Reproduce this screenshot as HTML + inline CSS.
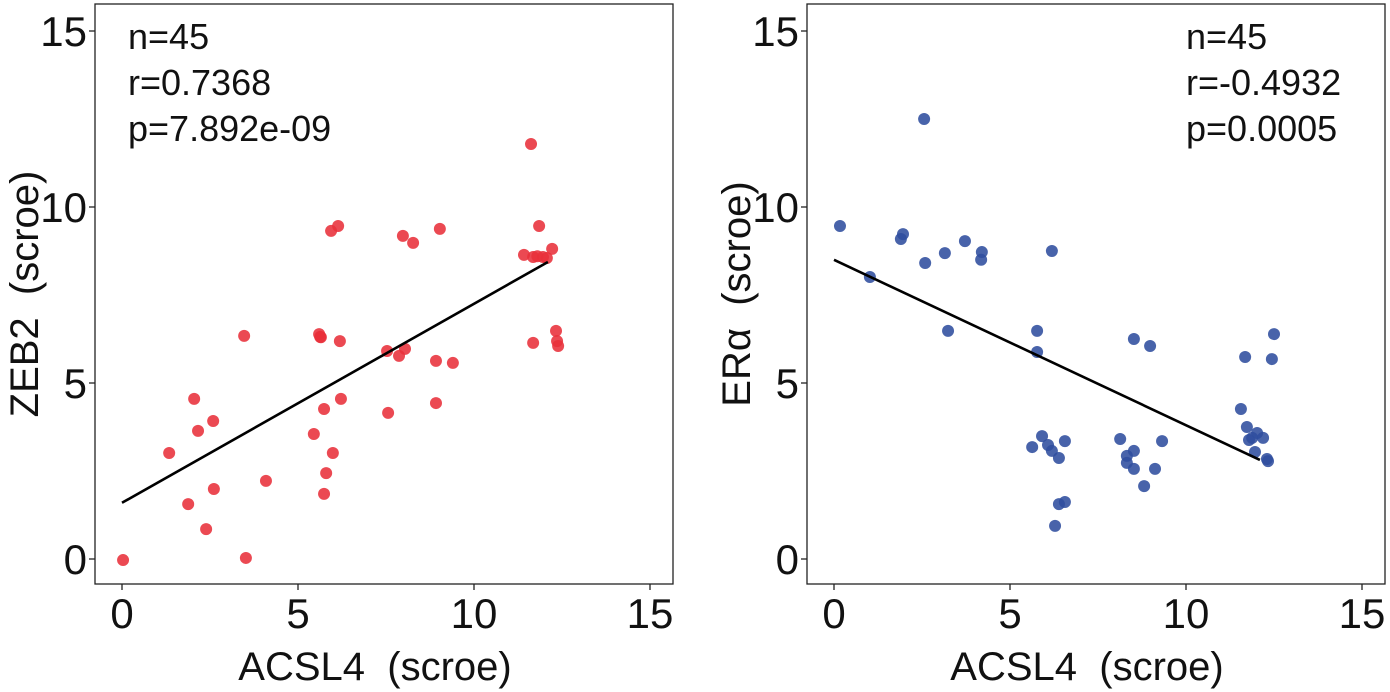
<!DOCTYPE html>
<html><head><meta charset="utf-8">
<style>
html,body{margin:0;padding:0;background:#fff;}
svg{display:block;font-family:"Liberation Sans",Arial,sans-serif;}
text{white-space:pre;}
</style></head>
<body>
<svg id="chart" width="1390" height="692" viewBox="0 0 1390 692"></svg>
<script>
const leftX=[11.62,5.94,6.14,7.98,8.27,9.03,11.85,11.42,11.68,11.96,12.22,12.07,3.47,5.6,5.63,6.19,7.53,8.04,7.87,8.92,9.4,11.68,12.33,12.36,12.39,2.05,6.22,5.74,7.56,8.92,2.59,2.16,5.45,1.34,5.99,5.8,4.09,2.61,1.88,5.74,2.39,0.03,3.52,11.8,5.65];
const leftY=[11.79,9.32,9.46,9.18,8.98,9.38,9.46,8.64,8.58,8.58,8.81,8.55,6.34,6.39,6.31,6.19,5.91,5.97,5.77,5.63,5.57,6.14,6.48,6.19,6.05,4.55,4.55,4.26,4.15,4.43,3.92,3.64,3.55,3.01,3.01,2.44,2.22,1.99,1.56,1.85,0.85,-0.03,0.03,8.6,6.3];
const rightX=[2.56,0.17,1.96,1.9,3.72,3.15,4.2,4.18,2.59,6.19,1.02,3.24,5.77,5.77,8.52,8.98,12.5,11.68,12.44,11.56,11.73,12.02,12.19,11.79,11.88,11.96,12.3,12.33,5.91,5.63,6.08,6.19,6.39,6.56,8.13,8.52,8.32,8.32,8.52,9.32,9.12,8.81,6.39,6.56,6.28];
const rightY=[12.5,9.46,9.23,9.09,9.03,8.69,8.72,8.5,8.41,8.75,8.01,6.48,6.48,5.88,6.25,6.05,6.39,5.74,5.68,4.26,3.75,3.58,3.44,3.38,3.44,3.04,2.84,2.78,3.49,3.18,3.24,3.07,2.87,3.35,3.41,3.07,2.93,2.73,2.56,3.35,2.56,2.07,1.56,1.62,0.94];
const xTicks=[0,5,10,15];
const yTicks=[0,5,10,15];
const leftStats=["n=45","r=0.7368","p=7.892e-09"];
const rightStats=["n=45","r=-0.4932","p=0.0005"];

const svg=document.getElementById('chart');
const NS="http://www.w3.org/2000/svg";
function mk(tag,attrs,parent){const e=document.createElementNS(NS,tag);for(const k in attrs)e.setAttribute(k,attrs[k]);(parent||svg).appendChild(e);return e;}

function panel(ox,xs,ys,color,stats,statsX,ytitle,prefix){
  const sc=35.2;
  const xS=v=>ox+27+v*sc;
  const yS=v=>559-v*sc;
  const g=mk('g',{});
  
  
  const box=mk('rect',{x:ox,y:4,width:578,height:580,fill:'none',stroke:'#222','stroke-width':1.3},g);
  
  
  xTicks.forEach(t=>{
    mk('line',{x1:xS(t),x2:xS(t),y1:584,y2:590,stroke:'#222','stroke-width':1.3},g);
    const tx=mk('text',{x:xS(t),y:628,'text-anchor':'middle','font-size':42,fill:'#111'},g);
    tx.textContent=t;
    
    
  });
  yTicks.forEach(t=>{
    mk('line',{x1:ox-6,x2:ox,y1:yS(t),y2:yS(t),stroke:'#222','stroke-width':1.3},g);
    const tx=mk('text',{x:ox-8,y:yS(t)+15,'text-anchor':'end','font-size':42,fill:'#111'},g);
    tx.textContent=t;
    
    
  });
  const xt=mk('text',{x:ox+280,y:680,'text-anchor':'middle','font-size':40,fill:'#111'},g);
  xt.textContent='ACSL4  (scroe)';
  
  
  const yt=mk('text',{x:0,y:0,'text-anchor':'middle','font-size':40,fill:'#111',transform:`translate(${ox-57},294) rotate(-90)`},g);
  yt.textContent=ytitle;
  
  
  xs.forEach((x,i)=>{
    const c=mk('circle',{cx:xS(x),cy:yS(ys[i]),r:6,fill:color,'fill-opacity':0.88},g);
    
    
  });
  const n=xs.length;const mx=xs.reduce((a,b)=>a+b)/n,my=ys.reduce((a,b)=>a+b)/n;
  let sxy=0,sxx=0;xs.forEach((x,i)=>{sxy+=(x-mx)*(ys[i]-my);sxx+=(x-mx)*(x-mx);});
  const b=sxy/sxx,a=my-b*mx;
  const x0=0,x1=12.1;
  const ln=mk('line',{x1:xS(x0),y1:yS(a+b*x0),x2:xS(x1),y2:yS(a+b*x1),stroke:'#000','stroke-width':2.6},g);
  
  
  stats.forEach((s,i)=>{
    const t=mk('text',{x:statsX,y:49+i*46,'font-size':36,fill:'#111'},g);
    t.textContent=s;
    
    
  });
}
panel(95,leftX,leftY,'#e8303a',leftStats,128,'ZEB2  (scroe)','zeb2');
panel(807,rightX,rightY,'#2f4d9e',rightStats,1186,'ERα  (scroe)','era');
</script>
</body></html>
